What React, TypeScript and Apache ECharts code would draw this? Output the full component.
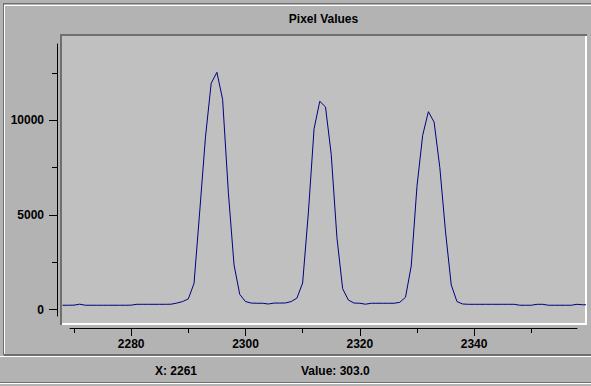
import React, { useEffect, useRef } from "react";
import * as echarts from "echarts";

// Pixel index of the first sample, then one value per pixel
const startPixel = 2268;
const pixelValues = [
  225, 225, 230, 280, 225, 225, 225, 225, 225, 225, // 2268-2277
  225, 225, 230, 275, 275, 275, 275, 275, 275, 280, // 2278-2287
  340, 420, 560, 1380, 5200, 9100, 11950, 12530, 11100, 6200, // 2288-2297
  2350, 800, 420, 340, 330, 330, 290, 340, 340, 345, // 2298-2307
  420, 600, 1400, 5100, 9550, 11000, 10700, 8200, 3800, 1100, // 2308-2317
  500, 340, 330, 280, 330, 330, 330, 330, 330, 380, // 2318-2327
  650, 2300, 6500, 9200, 10450, 9900, 7500, 4100, 1300, 420, // 2328-2337
  290, 275, 275, 275, 275, 275, 275, 275, 275, 275, // 2338-2347
  225, 225, 225, 275, 275, 225, 225, 225, 225, 225, // 2348-2357
  275, 250, 250, // 2358-2360
];

const xMajorTicks = [2280, 2300, 2320, 2340];
const xMinorTicks = [2270, 2290, 2310, 2330, 2350];
const yMajorTicks = [0, 5000, 10000];
const yMinorTicks = [2500, 7500, 12500];

const titleText = "Pixel Values";
const statusXText = "X: 2261";
const statusValueText = "Value: 303.0";

export default function App() {
  const ref = useRef<HTMLDivElement>(null);

  useEffect(() => {
    document.body.style.margin = "0";
    const chart = echarts.init(ref.current!, null, { renderer: "svg" });
    const data = pixelValues.map((v, i) => [startPixel + i, v]);
    const font = "'Liberation Sans', Arial, Helvetica, sans-serif";
    const dark = "#6f6f6f";
    const white = "#ffffff";
    const labelStyle = {
      color: "#000",
      fontWeight: "bold",
      fontSize: 12,
      fontFamily: font,
      formatter: (v: number) => String(v),
    };

    chart.setOption({
      animation: false,
      backgroundColor: "#b3b3b3",
      grid: [
        { left: 62, right: 6, top: 36, bottom: 63 },
        { left: 70, right: 14, top: 36, bottom: 58 },
        { left: 57, width: 100, top: 44, bottom: 70 },
      ],
      xAxis: [
        {
          gridIndex: 0,
          type: "value",
          min: 2267.9,
          max: 2359.4,
          show: false,
          splitLine: { show: false },
        },
        {
          gridIndex: 1,
          type: "value",
          min: 2269.3,
          max: 2358.0,
          position: "bottom",
          splitLine: { show: false },
          axisLine: { show: true, onZero: false, lineStyle: { color: "#000", width: 1 } },
          axisTick: {
            show: true,
            inside: false,
            length: 8,
            customValues: xMajorTicks,
            lineStyle: { color: "#000", width: 1 },
          },
          axisLabel: { ...labelStyle, margin: 10, customValues: xMajorTicks },
        },
        {
          gridIndex: 1,
          type: "value",
          min: 2269.3,
          max: 2358.0,
          position: "bottom",
          splitLine: { show: false },
          axisLine: { show: false, onZero: false },
          axisTick: {
            show: true,
            inside: false,
            length: 5,
            customValues: xMinorTicks,
            lineStyle: { color: "#000", width: 1 },
          },
          axisLabel: { show: false },
        },
        {
          gridIndex: 2,
          type: "value",
          min: 0,
          max: 1,
          show: false,
          splitLine: { show: false },
        },
      ],
      yAxis: [
        {
          gridIndex: 0,
          type: "value",
          min: -713,
          max: 14448,
          show: false,
          splitLine: { show: false },
        },
        {
          gridIndex: 1,
          type: "value",
          min: 0,
          max: 1,
          show: false,
          splitLine: { show: false },
        },
        {
          gridIndex: 2,
          type: "value",
          min: -343,
          max: 14025,
          position: "left",
          splitLine: { show: false },
          axisLine: { show: true, onZero: false, lineStyle: { color: "#000", width: 1 } },
          axisTick: {
            show: true,
            inside: false,
            length: 8,
            customValues: yMajorTicks,
            lineStyle: { color: "#000", width: 1 },
          },
          axisLabel: { ...labelStyle, margin: 13, customValues: yMajorTicks },
        },
        {
          gridIndex: 2,
          type: "value",
          min: -343,
          max: 14025,
          position: "left",
          splitLine: { show: false },
          axisLine: { show: false, onZero: false },
          axisTick: {
            show: true,
            inside: false,
            length: 5,
            customValues: yMinorTicks,
            lineStyle: { color: "#000", width: 1 },
          },
          axisLabel: { show: false },
        },
      ],
      series: [
        {
          type: "line",
          xAxisIndex: 0,
          yAxisIndex: 0,
          data,
          symbol: "none",
          clip: true,
          z: 5,
          lineStyle: { color: "#000080", width: 1 },
        },
      ],
      graphic: [
        // outer panel etched border
        { type: "rect", z: 0, shape: { x: 3, y: 3, width: 588, height: 1 }, style: { fill: dark } },
        { type: "rect", z: 0, shape: { x: 3, y: 3, width: 1, height: 352 }, style: { fill: dark } },
        { type: "rect", z: 0, shape: { x: 4, y: 5, width: 587, height: 1 }, style: { fill: white } },
        { type: "rect", z: 0, shape: { x: 4, y: 5, width: 1, height: 349 }, style: { fill: white } },
        { type: "rect", z: 0, shape: { x: 4, y: 354, width: 587, height: 2 }, style: { fill: dark } },
        { type: "rect", z: 0, shape: { x: 0, y: 356, width: 591, height: 1 }, style: { fill: white } },
        { type: "rect", z: 0, shape: { x: 0, y: 382, width: 591, height: 1 }, style: { fill: dark } },
        { type: "rect", z: 0, shape: { x: 0, y: 383, width: 591, height: 1 }, style: { fill: white } },
        // plot frame
        { type: "rect", z: 0, shape: { x: 62, y: 36, width: 523, height: 287 }, style: { fill: "#c0c0c0" } },
        { type: "rect", z: 1, shape: { x: 60, y: 34, width: 527, height: 2 }, style: { fill: dark } },
        { type: "rect", z: 1, shape: { x: 60, y: 34, width: 2, height: 291 }, style: { fill: dark } },
        { type: "rect", z: 1, shape: { x: 62, y: 323, width: 525, height: 2 }, style: { fill: white } },
        { type: "rect", z: 1, shape: { x: 585, y: 36, width: 2, height: 289 }, style: { fill: white } },
        // texts
        {
          type: "text",
          z: 2,
          style: {
            text: titleText,
            x: 323.5,
            y: 18.5,
            align: "center",
            verticalAlign: "middle",
            fill: "#000",
            fontSize: 12,
            fontWeight: "bold",
            fontFamily: font,
          },
        },
        {
          type: "text",
          z: 2,
          style: {
            text: statusXText,
            x: 155,
            y: 371,
            align: "left",
            verticalAlign: "middle",
            fill: "#000",
            fontSize: 12,
            fontWeight: "bold",
            fontFamily: font,
          },
        },
        {
          type: "text",
          z: 2,
          style: {
            text: statusValueText,
            x: 301,
            y: 371,
            align: "left",
            verticalAlign: "middle",
            fill: "#000",
            fontSize: 12,
            fontWeight: "bold",
            fontFamily: font,
          },
        },
      ],
    });

    return () => chart.dispose();
  }, []);

  return (
    <div
      ref={ref}
      style={{ position: "absolute", left: 0, top: 0, width: 591, height: 386 }}
    />
  );
}
